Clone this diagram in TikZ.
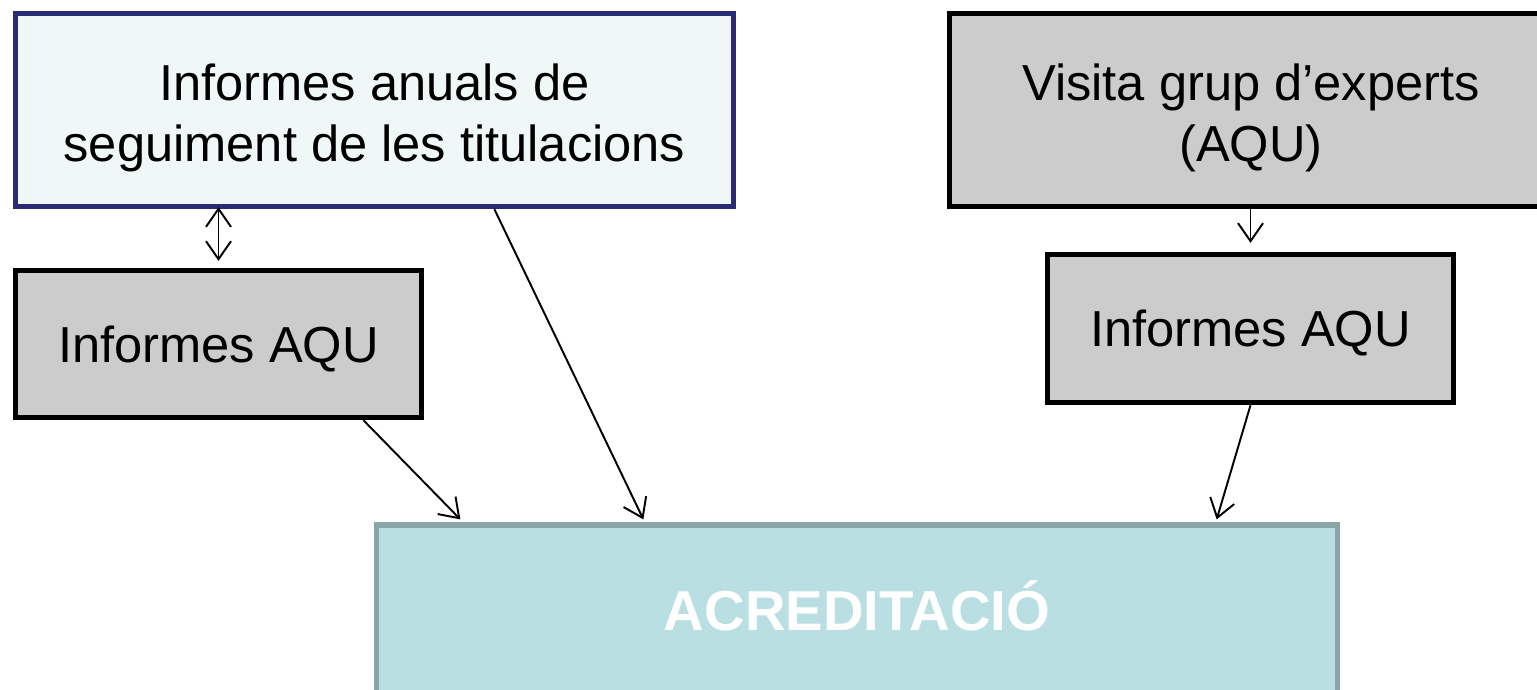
\documentclass[tikz,border=0pt]{standalone}
\usepackage{fontspec}
\setmainfont{Liberation Sans}
\usetikzlibrary{arrows.meta}
\definecolor{navyline}{HTML}{2B2A74}
\definecolor{palefill}{HTML}{F0F8F7}
\definecolor{greyfill}{HTML}{CCCCCC}
\definecolor{accfill}{HTML}{BADFE2}
\definecolor{accline}{HTML}{8AA5A8}
\begin{document}
\begin{tikzpicture}[
        font=\fontsize{14.4}{17.3}\selectfont,
        inbox/.style={draw=navyline,line width=1.5pt,fill=palefill,align=center,inner sep=0pt},
        aqubox/.style={draw=black,line width=1.5pt,fill=greyfill,align=center,inner sep=0pt},
        oneline/.style={text height=10.3pt,text depth=0pt},
        accbox/.style={draw=accline,line width=1.5pt,fill=accfill,text=white,inner sep=0pt,
            font=\fontsize{16}{19}\selectfont\bfseries,text height=11.4pt,text depth=0pt},
        barb/.tip={Straight Barb[length=1.8mm,width=2.5mm]},
        link/.style={-barb,line width=0.55pt}]
            \useasboundingbox(0,0)rectangle(15.37,-6.89);
            \clip(0,0)rectangle(15.37,-6.89);
            % boxes
            \node[inbox,minimum width=7.18cm,minimum height=1.93cm](anuals)at(3.745,-1.10){\rule{0pt}{15pt}Informes anuals de\\seguiment de les titulacions};
            \node[aqubox,minimum width=6.03cm,minimum height=1.93cm](visita)at(12.51,-1.10){\rule{0pt}{15pt}Visita grup d’experts\\(AQU)};
            \node[aqubox,oneline,minimum width=4.06cm,minimum height=1.47cm](aquleft)at(2.185,-3.44){Informes AQU};
            \node[aqubox,oneline,minimum width=4.06cm,minimum height=1.48cm](aquright)at(12.505,-3.285){Informes AQU};
            \node[accbox,minimum width=9.61cm,minimum height=1.7cm](acred)at(8.57,-6.10){ACREDITACIÓ};
            % connectors
            \draw[link,barb-barb]([yshift=0.02cm]aquleft.north |- anuals.south)--([yshift=0.07cm]aquleft.north);
            \draw[link]([xshift=4.815cm]anuals.south west)--([xshift=2.695cm,yshift=0.03cm]acred.north west);
            \draw[link]([xshift=3.505cm]aquleft.south west)--([xshift=0.865cm,yshift=0.03cm]acred.north west);
            \draw[link](aquright.north |- visita.south)--([yshift=0.09cm]aquright.north);
            \draw[link](aquright.south)--([xshift=-1.235cm,yshift=0.03cm]acred.north east);
        \end{tikzpicture}
\end{document}
